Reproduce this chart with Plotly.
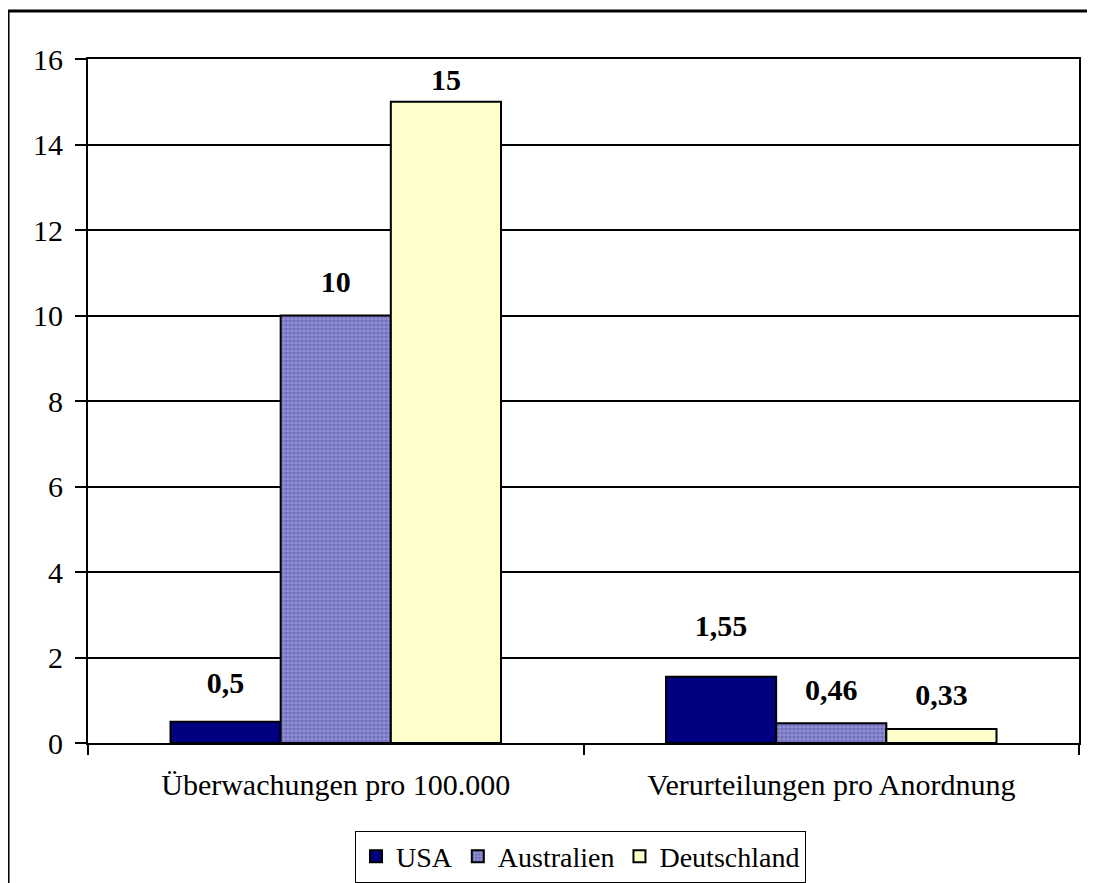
import plotly.graph_objects as go

categories = ["Überwachungen pro 100.000", "Verurteilungen pro Anordnung"]
usa = [0.5, 1.55]
australien = [10, 0.46]
deutschland = [15, 0.33]
y_ticks = [0, 2, 4, 6, 8, 10, 12, 14, 16]

FONT = "Liberation Serif, Times New Roman, serif"
FS = 30


def de(v):
    return ("%g" % v).replace(".", ",")


series = [
    ("USA", usa, dict(color="#000080"), [32, 52]),
    ("Australien", australien, dict(
        color="#7E7EC6",
        pattern=dict(shape=".", fgcolor="#50509E", bgcolor="#8E8ED4", size=4, solidity=0.5),
    ), [24, 24]),
    ("Deutschland", deutschland, dict(color="#FFFFCC"), [6, 24]),
]

fig = go.Figure()
for name, vals, mk, gap in series:
    mk = dict(mk, line=dict(color="black", width=2))
    fig.add_trace(go.Bar(
        x=categories, y=vals, name=name, marker=mk, offsetgroup=name,
    ))
    # value labels, grouped with the bars
    fig.add_trace(go.Scatter(
        x=categories, y=vals, offsetgroup=name, mode="markers+text",
        text=["<b>" + de(v) + "</b>" for v in vals], textposition="top center",
        marker=dict(size=gap, color="rgba(0,0,0,0)", line=dict(width=0)),
        textfont=dict(family=FONT, size=FS, color="black"),
        showlegend=False, hoverinfo="skip", cliponaxis=False,
    ))

fig.update_layout(
    width=1087, height=875,
    paper_bgcolor="white", plot_bgcolor="white",
    font=dict(family=FONT, size=FS, color="black"),
    margin=dict(l=80, r=16, t=51, b=140, autoexpand=False),
    barmode="group", scattermode="group", bargap=0.333, bargroupgap=0,
    showlegend=True,
    legend=dict(
        orientation="h", x=0.497, xanchor="center", y=-0.128, yanchor="top",
        bordercolor="black", borderwidth=1, bgcolor="white",
        font=dict(family=FONT, size=28), itemwidth=30,
    ),
    shapes=[dict(
        type="rect", xref="paper", yref="paper",
        x0=-0.0807, x1=1.1, y0=-0.35, y1=1.0702,
        line=dict(color="black", width=3), layer="below",
    )],
)
fig.update_yaxes(
    range=[0, 16], tickvals=y_ticks, showgrid=True, gridcolor="black", gridwidth=2,
    showline=True, linecolor="black", linewidth=2, mirror=True,
    ticks="outside", ticklen=11, tickwidth=2, tickcolor="black",
    zeroline=False, ticklabelstandoff=6,
    tickfont=dict(family=FONT, size=FS),
)
fig.update_xaxes(
    showline=True, linecolor="black", linewidth=2, mirror=True,
    ticks="outside", tickson="boundaries", ticklen=10, tickwidth=2, tickcolor="black",
    showgrid=False, ticklabelstandoff=14,
    tickfont=dict(family=FONT, size=FS),
)

fig.write_html("out.html")
